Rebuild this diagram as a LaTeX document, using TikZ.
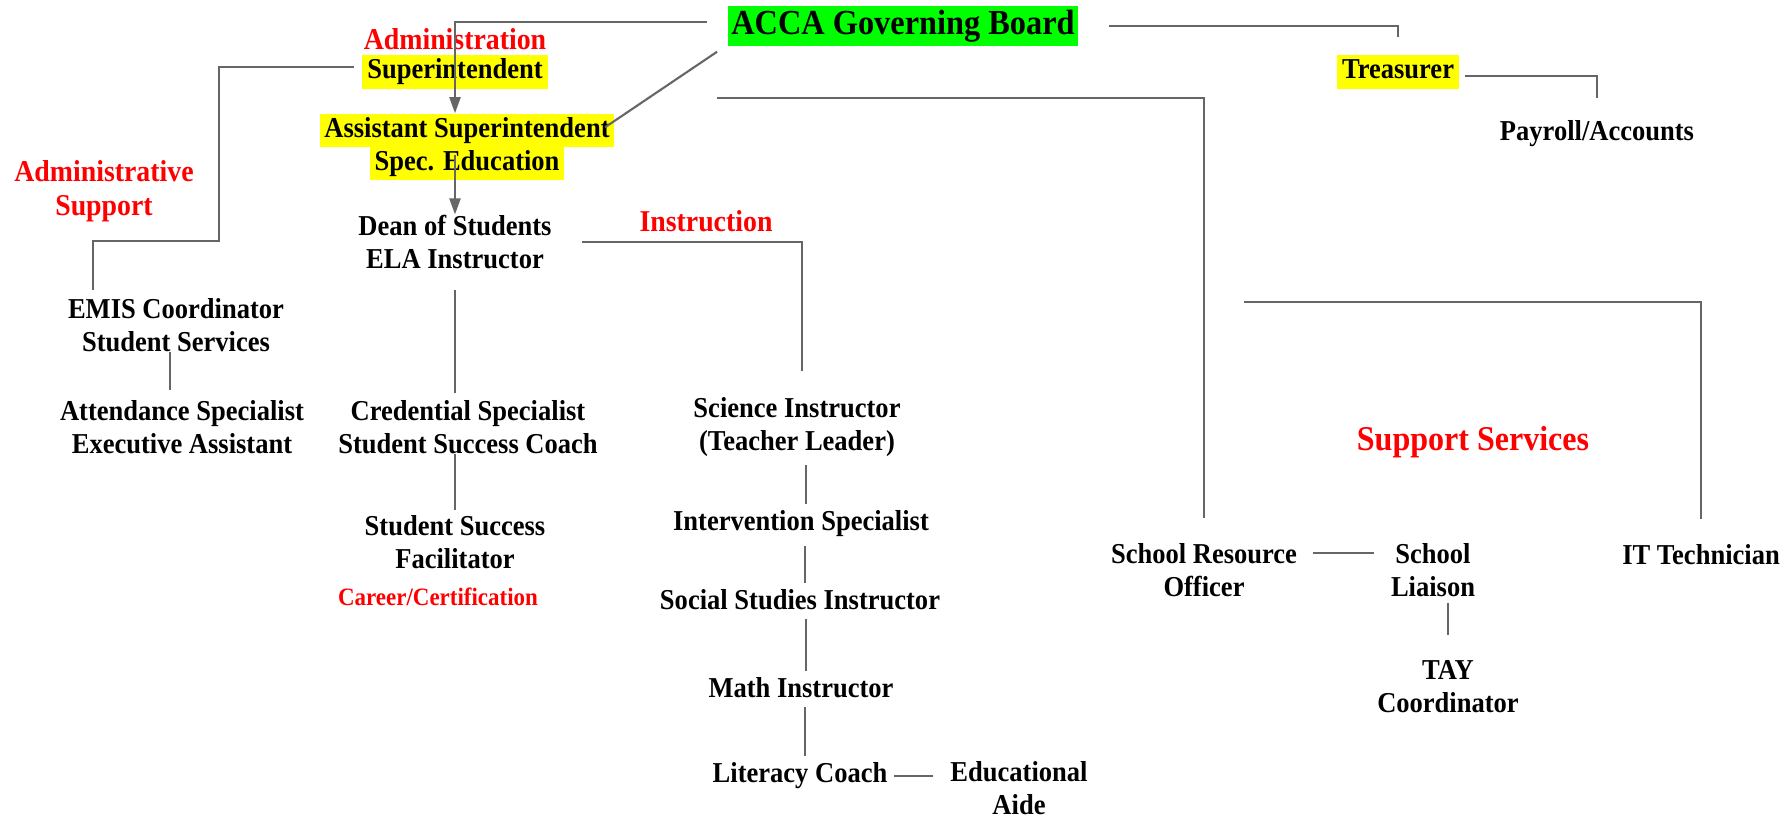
\documentclass[tikz,border=0pt]{standalone}
\usepackage{fontspec}
\setmainfont{Liberation Serif}[FakeStretch=0.92]
\usetikzlibrary{arrows.meta}

\definecolor{hlyellow}{RGB}{255,255,0}
\definecolor{hlgreen}{RGB}{0,255,0}
\definecolor{linegray}{RGB}{102,102,102}
\newcommand{\hl}[1]{{\setlength{\fboxsep}{0pt}\colorbox{hlyellow}{\strut\,#1\,}}}

\begin{document}
\begin{tikzpicture}[x=0.01cm, y=-0.01cm,
    every node/.style={font=\bfseries\fontsize{8.2}{9.4}\selectfont, align=center, inner sep=0pt},
    group/.style={text=red, font=\bfseries\fontsize{8.6}{9.8}\selectfont},
    conn/.style={draw=linegray, line width=0.6pt},
    head/.style={conn, -{Triangle[length=1.6mm,width=1.1mm]}},
    link/.style={conn, shorten <=0.08cm, shorten >=0.06cm}]
  \useasboundingbox (0,0) rectangle (1785,818);

  \node[fill=hlgreen, inner xsep=1pt, minimum height=0.4cm,
        font=\bfseries\fontsize{10}{11}\selectfont] (board) at (903,26) {ACCA Governing Board};
  \node[group] (admin) at (455,39) {Administration};
  \node (supt) at (455,72) {\hl{Superintendent}};
  \node (asst) at (467,147) {\hl{Assistant Superintendent}\\\hl{Spec. Education}};
  \node[group] (adminsup) at (104,191) {Administrative\\Support};
  \node (dean) at (455,242) {Dean of Students\\ELA Instructor};
  \node[group] (instr) at (706,221) {Instruction};
  \node (emis) at (176,325) {EMIS Coordinator\\Student Services};
  \node (attend) at (182,427) {Attendance Specialist\\Executive Assistant};
  \node (cred) at (468,427) {Credential Specialist\\Student Success Coach};
  \node (ssf) at (455,542) {Student Success\\Facilitator};
  \node[group, font=\bfseries\fontsize{7.1}{8.4}\selectfont] (career) at (438,597) {Career/Certification};
  \node (sci) at (797,427) {Science Instructor\\(Teacher Leader)};
  \node (interv) at (801,524) {Intervention Specialist};
  \node (social) at (800,600) {Social Studies Instructor};
  \node (math) at (801,688) {Math Instructor};
  \node (literacy) at (800,776) {Literacy Coach};
  \node (aide) at (1019,788) {Educational\\Aide};
  \node (treas) at (1398,72) {\hl{Treasurer}};
  \node (payroll) at (1597,134) {Payroll/Accounts};
  \node[group, font=\bfseries\fontsize{9.9}{11}\selectfont] (support) at (1473,442) {Support Services};
  \node (sro) at (1204,570) {School Resource\\Officer};
  \node (liaison) at (1433,570) {School\\Liaison};
  \node (ittech) at (1701,555) {IT Technician};
  \node (tay) at (1448,687) {TAY\\Coordinator};

  \coordinate (admknee) at (219,241);
  \coordinate (supbranch) at (1244,302);

  \draw[head] ([xshift=-0.2cm,yshift=0.04cm]board.west) -| (supt |- asst.north);
  \draw[conn] ([xshift=-0.1cm,yshift=-0.05cm]board.south west) -- ([xshift=-0.1cm,yshift=-0.14cm]asst.north east);
  \draw[head] ([yshift=-0.08cm]supt |- asst.center) -- (supt |- dean.north);
  \draw[conn] ([xshift=-0.08cm,yshift=0.05cm]supt.west) -| (admknee) -| ([xshift=-0.83cm,yshift=0.08cm]emis.north);
  \draw[conn, shorten >=0.1cm] ([xshift=-0.06cm]emis.south) -- ([xshift=-0.06cm]emis.south |- attend.north);
  \draw[conn, shorten <=0.2cm, shorten >=0.07cm] (dean.south) -- (dean.south |- cred.north);
  \draw[conn, shorten >=0.05cm] (ssf.north |- cred.south) -- (ssf.north);
  \draw[conn, shorten <=0.3cm, shorten >=0.26cm] (dean.east) -| ([xshift=0.05cm]sci.north);
  \foreach \a/\b in {sci/interv, interv/social, social/math, math/literacy}
    \draw[link] ([xshift=0.05cm]\b.north |- \a.south) -- ([xshift=0.05cm]\b.north);
  \draw[conn, shorten <=0.06cm, shorten >=0.17cm] (literacy.east) -- (literacy.east -| aide.west);
  \draw[conn, shorten <=0.3cm, shorten >=0.18cm] (board.east) -| (treas.north);
  \draw[conn, shorten <=0.05cm, shorten >=0.22cm] ([yshift=-0.04cm]treas.east) -| (payroll.north);
  \draw[conn, shorten >=0.25cm] ([xshift=-0.1cm,yshift=-0.51cm]board.south west) -| (sro.north);
  \draw[conn, shorten >=0.25cm] (supbranch) -| (ittech.north);
  \draw[conn, shorten <=0.15cm, shorten >=0.16cm] ([yshift=-0.1cm]sro.north east) -- ([yshift=-0.1cm]liaison.north west);
  \draw[conn, shorten <=0.06cm, shorten >=0.25cm] (tay.north |- liaison.south) -- (tay.north);
\end{tikzpicture}
\end{document}
